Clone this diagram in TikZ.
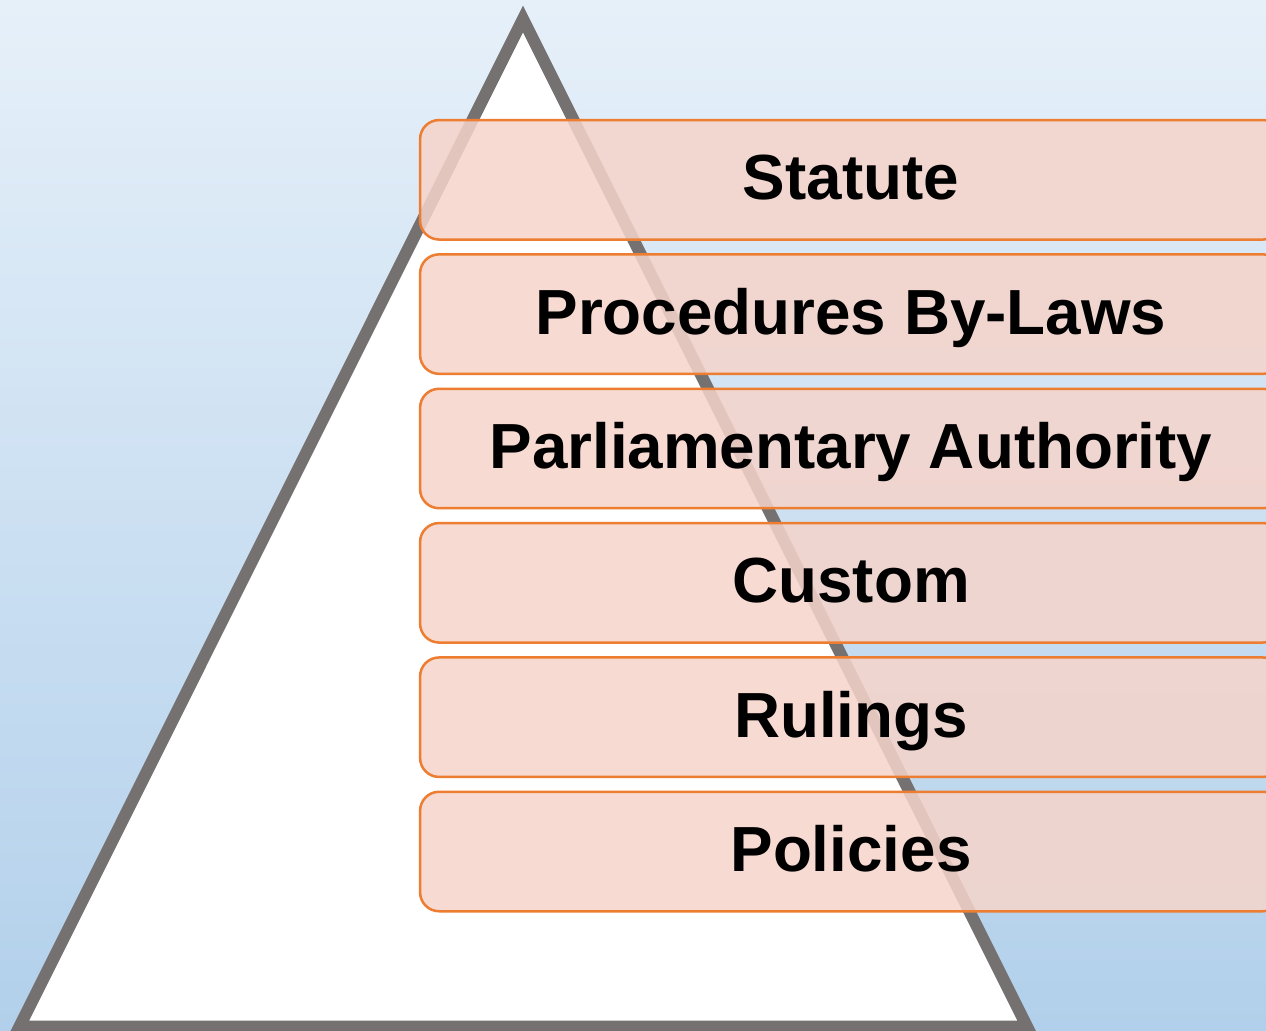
\documentclass[tikz,border=0pt]{standalone}
\usepackage{fontspec}
\setmainfont{Liberation Sans}
\usepackage{xcolor}

\definecolor{bgtop}{RGB}{230,240,249}
\definecolor{bgbottom}{RGB}{178,208,235}
\definecolor{pyrgray}{RGB}{118,113,113}
\definecolor{boxfill}{RGB}{246,212,202}
\definecolor{boxline}{RGB}{237,125,49}

\tikzset{
  levelbox/.style={draw=boxline, line width=0.05cm, fill=boxfill, fill opacity=0.85,
    text opacity=1, rounded corners=0.38cm, minimum width=17.24cm, minimum height=2.39cm,
    inner sep=0pt, text height=0.8cm, text depth=0pt,
    font=\fontsize{36.3}{40}\selectfont\bfseries}
}

\begin{document}
\begin{tikzpicture}[x=0.02cm, y=-0.02cm]
        \useasboundingbox (0,0) rectangle (1266,1030);
        \clip (0,0) rectangle (1266,1030);
        % background
        \shade[top color=bgtop, bottom color=bgbottom] (0,0) rectangle (1266,1030);
        % pyramid
        \draw[pyrgray, line width=0.24cm, line join=miter, fill=white]
            (523,19) -- (19.5,1026.5) -- (1027,1026.5) -- cycle;
        % levels
        \node[levelbox] (statute) at (851,179.8) {Statute};
        \node[levelbox] (bylaws) at (851,314.1) {Procedures By-Laws};
        \node[levelbox] (authority) at (851,448.5) {Parliamentary Authority};
        \node[levelbox] (custom) at (851,582.8) {Custom};
        \node[levelbox] (rulings) at (851,717.2) {Rulings};
        \node[levelbox] (policies) at (851,851.5) {Policies};
    \end{tikzpicture}
\end{document}
